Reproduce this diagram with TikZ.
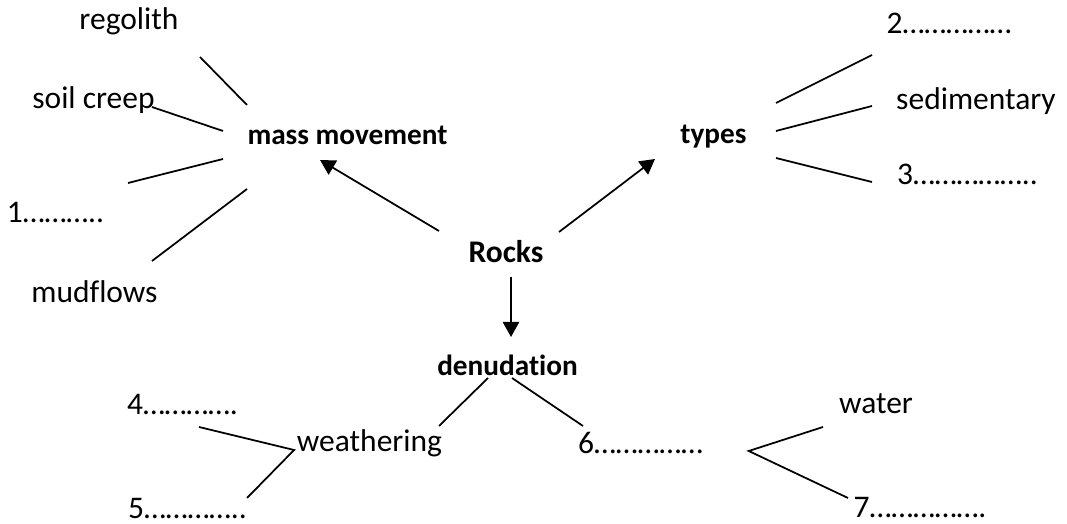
\documentclass[tikz,border=0pt]{standalone}
\usepackage{fontspec}
\setmainfont{Carlito}[Ligatures=NoCommon]
\usetikzlibrary{arrows.meta}
\tikzset{word/.style={inner sep=0pt}, head/.style={inner sep=0pt, font=\fontsize{11.7}{14}\selectfont\bfseries}}
\tikzset{tip/.style={-{Triangle[length=6pt, width=6.5pt]}}}

\begin{document}
\begin{tikzpicture}[x=0.4pt, y=-0.4pt, font=\fontsize{12.6}{15}\selectfont, line width=0.7pt]
            \useasboundingbox (0,0) rectangle (1067,524);
            % the three headings round Rocks
            \node[head, font=\fontsize{12.6}{15}\selectfont\bfseries] (rocks) at (506,251.5) {Rocks};
            \node[head] (mass) at (347.5,135.5) {mass movement};
            \node[head] (types) at (713.5,137) {types};
            \node[head] (denud) at (507.5,365) {denudation};
            \draw[tip] ([shift={(-67,-20.5)}]rocks.center) -- ([shift={(-27.5,24.5)}]mass.center);
            \draw[tip] ([shift={(53,-19.5)}]rocks.center) -- ([shift={(-58.5,22)}]types.center);
            \draw[tip] ([shift={(5,25.5)}]rocks.center) -- ([shift={(3.5,-28)}]denud.center);
            % mass movement
            \node[word] (regolith) at (129,21) {regolith};
            \node[word] (creep) at (93.5,100.5) {soil creep};
            \node[word] (one) at (55.5,212) {1………..};
            \node[word] (mud) at (94.5,292) {mudflows};
            \draw ([shift={(-100.5,-30.5)}]mass.center) -- ([shift={(71,36)}]regolith.center);
            \draw ([shift={(-124.5,-4.5)}]mass.center) -- ([shift={(58.5,6.5)}]creep.center);
            \draw ([shift={(-124.5,23.5)}]mass.center) -- ([shift={(72.5,-29)}]one.center);
            \draw ([shift={(-100.5,53.5)}]mass.center) -- ([shift={(57.5,-31)}]mud.center);
            % types
            \node[word] (two) at (949,23) {2……………};
            \node[word] (sed) at (976,101) {sedimentary};
            \node[word] (three) at (967.5,174) {3……………..};
            \draw ([shift={(62.5,-34)}]types.center) -- ([shift={(-77,32)}]two.center);
            \draw ([shift={(62.5,-6)}]types.center) -- ([shift={(-104,5)}]sed.center);
            \draw ([shift={(62.5,21)}]types.center) -- ([shift={(-95.5,8)}]three.center);
            % denudation
            \node[word] (weath) at (369.5,443) {weathering};
            \node[word] (six) at (640.5,443) {6……………};
            \draw ([shift={(-19.5,13)}]denud.center) -- ([shift={(69.5,-17)}]weath.center);
            \draw ([shift={(4.5,13)}]denud.center) -- ([shift={(-57.5,-17)}]six.center);
            \node[word] (four) at (182.5,404.5) {4………….};
            \node[word] (five) at (187.5,508.5) {5…………..};
            \coordinate (wfork) at ([shift={(-2,7)}]weath.west);
            \draw ([shift={(16.5,22.5)}]four.center) -- (wfork) -- ([shift={(59.5,-10.5)}]five.center);
            \node[word] (water) at (876,403.5) {water};
            \node[word] (seven) at (920,508) {7…………….};
            \coordinate (sfork) at ([shift={(45,8)}]six.east);
            \draw ([shift={(-53,23.5)}]water.center) -- (sfork) -- ([shift={(-72,-10)}]seven.center);
        \end{tikzpicture}
\end{document}
